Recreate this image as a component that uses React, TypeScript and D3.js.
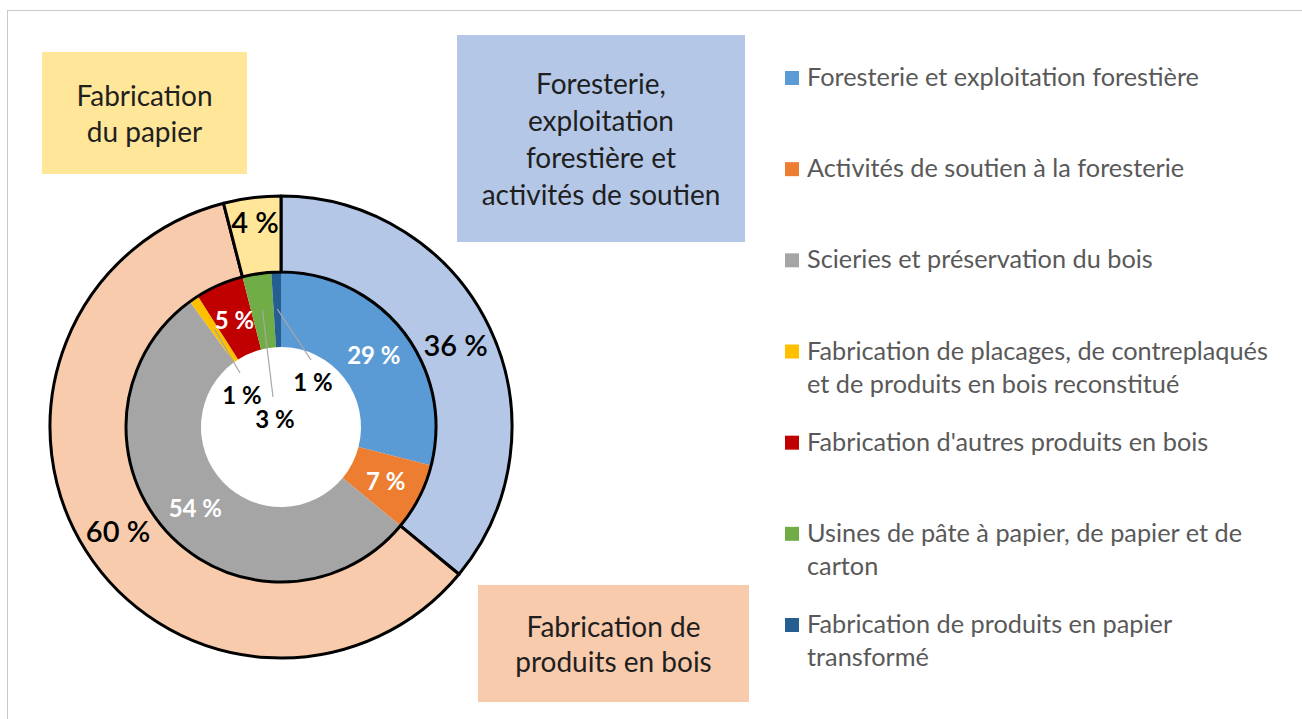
import { useEffect, useRef } from "react";
import * as d3 from "d3";

// outer ring: industry groups
const groupNames = [
  "Foresterie, exploitation forestière et activités de soutien",
  "Fabrication de produits en bois",
  "Fabrication du papier",
];
const groupValues = [36, 60, 4];

// inner ring: sub-sectors
const sectorNames = [
  "Foresterie et exploitation forestière",
  "Activités de soutien à la foresterie",
  "Scieries et préservation du bois",
  "Fabrication de placages, de contreplaqués et de produits en bois reconstitué",
  "Fabrication d'autres produits en bois",
  "Usines de pâte à papier, de papier et de carton",
  "Fabrication de produits en papier transformé",
];
const sectorValues = [29, 7, 54, 1, 5, 3, 1];

// legend text, wrapped as in the picture
const legendLines = [
  ["Foresterie et exploitation forestière"],
  ["Activités de soutien à la foresterie"],
  ["Scieries et préservation du bois"],
  ["Fabrication de placages, de contreplaqués", "et de produits en bois reconstitué"],
  ["Fabrication d'autres produits en bois"],
  ["Usines de pâte à papier, de papier et de", "carton"],
  ["Fabrication de produits en papier", "transformé"],
];

// group call-out boxes, same order as groupNames
const boxLines = [
  ["Foresterie,", "exploitation", "forestière et", "activités de soutien"],
  ["Fabrication de", "produits en bois"],
  ["Fabrication", "du papier"],
];

const groupColors = ["#B4C7E7", "#F8CBAD", "#FFE699"];
const sectorColors = ["#5B9BD5", "#ED7D31", "#A5A5A5", "#FFC000", "#C00000", "#70AD47", "#255E91"];

const FONT = "Lato, 'Noto Sans', sans-serif";

function App() {
  const ref = useRef<SVGSVGElement>(null);
  const width = 1302;
  const height = 719;

  useEffect(() => {
    const svg = d3.select(ref.current);
    svg.selectAll("*").remove();

    // chart frame
    svg
      .append("rect")
      .attr("x", 7.5)
      .attr("y", 10.5)
      .attr("width", 1320)
      .attr("height", 740)
      .attr("fill", "#fff")
      .attr("stroke", "#c9c9c9")
      .attr("stroke-width", 1);

    const cx = 281;
    const cy = 427;
    const rHole = 80;
    const rMid = 155;
    const rOuter = 231;

    const pie = d3.pie<number>().sort(null).value((d) => d);
    const innerArc = d3.arc<d3.PieArcDatum<number>>().innerRadius(rHole).outerRadius(rMid);
    const outerArc = d3.arc<d3.PieArcDatum<number>>().innerRadius(rMid).outerRadius(rOuter);

    const g = svg.append("g").attr("transform", `translate(${cx},${cy})`);

    const innerData = pie(sectorValues);
    const outerData = pie(groupValues);

    g.selectAll("path.inner")
      .data(innerData)
      .join("path")
      .attr("class", "inner")
      .attr("d", innerArc)
      .attr("fill", (d, i) => sectorColors[i]);

    g.selectAll("path.outer")
      .data(outerData)
      .join("path")
      .attr("class", "outer")
      .attr("d", outerArc)
      .attr("fill", (d, i) => groupColors[i])
      .attr("stroke", "#000")
      .attr("stroke-width", 3)
      .attr("stroke-linejoin", "round");

    // inner labels: big slices in white, small ones in the hole with a leader
    const leaderArc = d3.arc<d3.PieArcDatum<number>>().innerRadius(118).outerRadius(118);
    const calloutOffsets: Record<number, [number, number]> = {
      3: [-39, -33],
      5: [-6, -9],
      6: [32, -46],
    };

    innerData.forEach((d, i) => {
      const off = calloutOffsets[i];
      if (!off) {
        const [x, y] = innerArc.centroid(d);
        g.append("text")
          .attr("x", x)
          .attr("y", y)
          .attr("text-anchor", "middle")
          .attr("dominant-baseline", "central")
          .attr("font-family", FONT)
          .attr("font-size", 24)
          .attr("font-weight", "bold")
          .attr("fill", "#fff")
          .text(`${d.data} %`);
      } else {
        const [sx, sy] = leaderArc.centroid(d);
        g.append("line")
          .attr("x1", sx)
          .attr("y1", sy)
          .attr("x2", off[0] - 2)
          .attr("y2", off[1] - 21)
          .attr("stroke", "#a6a6a6")
          .attr("stroke-width", 1.2);
        g.append("text")
          .attr("x", off[0])
          .attr("y", off[1])
          .attr("text-anchor", "middle")
          .attr("dominant-baseline", "central")
          .attr("font-family", FONT)
          .attr("font-size", 24)
          .attr("font-weight", "bold")
          .attr("fill", "#000")
          .text(`${d.data} %`);
      }
    });

    // outer labels
    outerData.forEach((d) => {
      const r = d.endAngle - d.startAngle < 0.3 ? 207 : (rMid + rOuter) / 2;
      const [x, y] = d3.arc<d3.PieArcDatum<number>>().innerRadius(r).outerRadius(r).centroid(d);
      g.append("text")
        .attr("x", x)
        .attr("y", y)
        .attr("text-anchor", "middle")
        .attr("dominant-baseline", "central")
        .attr("font-family", FONT)
        .attr("font-size", 29)
        .attr("font-weight", 600)
        .attr("fill", "#000")
        .text(`${d.data} %`);
    });

    // call-out boxes for the groups
    const boxes = [
      { x: 457, y: 35, w: 288, h: 207, base: 94, step: 37 },
      { x: 478, y: 585, w: 271, h: 117, base: 637, step: 35 },
      { x: 42, y: 52, w: 205, h: 122, base: 106, step: 36 },
    ];
    boxes.forEach((b, i) => {
      svg
        .append("rect")
        .attr("x", b.x)
        .attr("y", b.y)
        .attr("width", b.w)
        .attr("height", b.h)
        .attr("fill", groupColors[i]);
      const t = svg
        .append("text")
        .attr("text-anchor", "middle")
        .attr("font-family", FONT)
        .attr("font-size", 28)
        .attr("fill", "#1f1f1f");
      boxLines[i].forEach((line, j) => {
        t.append("tspan")
          .attr("x", b.x + b.w / 2)
          .attr("y", b.base + j * b.step)
          .text(line);
      });
    });

    // legend
    const ly = d3.scaleLinear().domain([0, sectorNames.length - 1]).range([86, 633]);
    legendLines.forEach((lines, i) => {
      const y = ly(i);
      svg
        .append("rect")
        .attr("x", 785)
        .attr("y", y - 15)
        .attr("width", 14)
        .attr("height", 14)
        .attr("fill", sectorColors[i]);
      const t = svg
        .append("text")
        .attr("font-family", FONT)
        .attr("font-size", 25.3)
        .attr("fill", "#595959");
      lines.forEach((line, j) => {
        t.append("tspan")
          .attr("x", 807)
          .attr("y", y + j * 33)
          .text(line);
      });
    });
  }, []);

  return (
    <svg
      ref={ref}
      width={width}
      height={height}
      style={{ position: "absolute", left: 0, top: 0, background: "#fff" }}
    />
  );
}

export default App;
